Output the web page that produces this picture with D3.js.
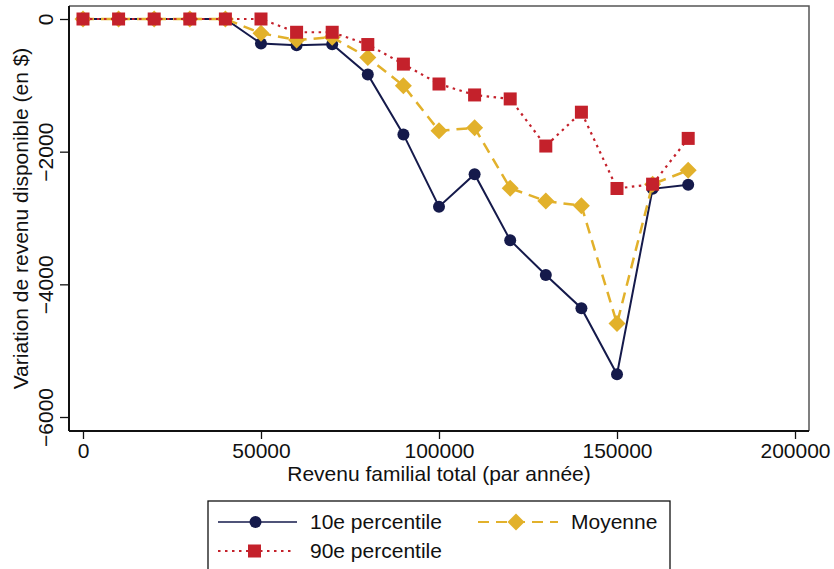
<!DOCTYPE html>
<html>
<head>
<meta charset="utf-8">
<script src="https://cdn.jsdelivr.net/npm/d3@7"></script>
<style>
  body { margin: 0; background: #fff; }
  svg text { font-family: "Liberation Sans", Arial, sans-serif; fill: #111; }
</style>
</head>
<body>
<div id="chart"></div>
<script>
// revenu familial (x) and the three series
const revenus = [0, 10000, 20000, 30000, 40000, 50000, 60000, 70000, 80000, 90000,
                 100000, 110000, 120000, 130000, 140000, 150000, 160000, 170000];
const p10 = [0, 0, 0, 0, 0, -370, -395, -380, -835, -1740, -2830, -2340, -3335,
             -3860, -4360, -5355, -2560, -2500];
const moyenne = [0, 0, 0, 0, 0, -215, -315, -275, -580, -1005, -1685, -1640, -2550,
                 -2745, -2815, -4590, -2490, -2280];
const p90 = [0, 0, 0, 0, 0, 0, -200, -200, -385, -680, -980, -1145, -1205,
             -1915, -1405, -2555, -2490, -1800];
const xTicks = [0, 50000, 100000, 150000, 200000];
const yTicks = [0, -2000, -4000, -6000];

const seriesNames = ['10e percentile', 'Moyenne', '90e percentile'];

const W = 834, H = 569;
const margin = {top: 6, right: 25, bottom: 138, left: 69};
const width = W - margin.left - margin.right;
const height = H - margin.top - margin.bottom;
const fontSize = 21;

const svg = d3.select('#chart').append('svg')
    .attr('width', W)
    .attr('height', H);

const chart = svg.append('g')
    .attr('transform', `translate(${margin.left},${margin.top})`);

const x = d3.scaleLinear().domain([-3930, 203930]).range([0, width]);
const y = d3.scaleLinear().domain([196, -6211]).range([0, height]);

// frame (top/right)
chart.append('path')
    .attr('d', `M0,0H${width}V${height}`)
    .attr('fill', 'none')
    .attr('stroke', '#555')
    .attr('stroke-width', 1.5);

const xAxis = d3.axisBottom(x).tickValues(xTicks).tickSize(8).tickPadding(4)
    .tickFormat(d3.format('d'));
const yAxis = d3.axisLeft(y).tickValues(yTicks).tickSize(9)
    .tickFormat(d => d < 0 ? '\u2212' + Math.abs(d) : d);

const xg = chart.append('g')
    .attr('transform', `translate(0,${height})`)
    .call(xAxis);
xg.select('.domain').attr('stroke', '#111').attr('stroke-width', 2).attr('d', `M0,0H${width}`);
xg.selectAll('.tick line').attr('stroke', '#111').attr('stroke-width', 1.3);
xg.selectAll('.tick text')
    .attr('font-size', fontSize)
    .attr('fill', '#111')
    .attr('dy', null)
    .attr('y', 27);

const yg = chart.append('g').call(yAxis);
yg.select('.domain').attr('stroke', '#111').attr('stroke-width', 2).attr('d', `M0,0V${height}`);
yg.selectAll('.tick line').attr('stroke', '#111').attr('stroke-width', 1.3);
yg.selectAll('.tick text')
    .attr('font-size', fontSize)
    .attr('fill', '#111')
    .attr('text-anchor', 'middle')
    .attr('x', null)
    .attr('dy', null)
    .attr('transform', 'translate(-16,0) rotate(-90)');

// axis titles
svg.append('text')
    .attr('x', margin.left + x(100000))
    .attr('y', 481)
    .attr('text-anchor', 'middle')
    .attr('font-size', fontSize)
    .text('Revenu familial total (par année)');

svg.append('text')
    .attr('transform', `translate(28,${margin.top + height / 2}) rotate(-90)`)
    .attr('text-anchor', 'middle')
    .attr('font-size', fontSize)
    .text('Variation de revenu disponible (en $)');

const styles = {
    '10e percentile': {color: '#151a4b', dash: null, width: 2, values: p10, shape: 'circle'},
    'Moyenne': {color: '#e2b12b', dash: '11,7', width: 2.5, values: moyenne, shape: 'diamond'},
    '90e percentile': {color: '#c4212b', dash: '2.5,4.5', width: 2.2, values: p90, shape: 'square'}
};

const line = d3.line().x(d => x(d[0])).y(d => y(d[1]));

function drawMarker(g, shape, color, cx, cy) {
    if (shape === 'circle') {
        g.append('circle').attr('cx', cx).attr('cy', cy).attr('r', 6).attr('fill', color);
    } else if (shape === 'diamond') {
        g.append('path').attr('d', `M${cx},${cy - 8.5}L${cx + 8.5},${cy}L${cx},${cy + 8.5}L${cx - 8.5},${cy}Z`)
            .attr('fill', color);
    } else {
        g.append('rect').attr('x', cx - 6.5).attr('y', cy - 6.5).attr('width', 13).attr('height', 13)
            .attr('fill', color);
    }
}

seriesNames.forEach(name => {
    const s = styles[name];
    const pts = revenus.map((r, i) => [r, s.values[i]]);
    const g = chart.append('g');
    g.append('path')
        .datum(pts)
        .attr('d', line)
        .attr('fill', 'none')
        .attr('stroke', s.color)
        .attr('stroke-width', s.width)
        .attr('stroke-dasharray', s.dash);
    pts.forEach(p => drawMarker(g, s.shape, s.color, x(p[0]), y(p[1])));
});

// legend
const legend = svg.append('g');
legend.append('rect')
    .attr('x', 208).attr('y', 501)
    .attr('width', 462).attr('height', 80)
    .attr('fill', '#fff')
    .attr('stroke', '#111')
    .attr('stroke-width', 1.3);

const legendPos = {
    '10e percentile': {x0: 218, x1: 297, ty: 522, tx: 310},
    'Moyenne': {x0: 478, x1: 558, ty: 522, tx: 571},
    '90e percentile': {x0: 218, x1: 295, ty: 551, tx: 310}
};

seriesNames.forEach(name => {
    const s = styles[name];
    const p = legendPos[name];
    legend.append('line')
        .attr('x1', p.x0).attr('x2', p.x1)
        .attr('y1', p.ty).attr('y2', p.ty)
        .attr('stroke', s.color)
        .attr('stroke-width', s.width - 0.3)
        .attr('stroke-dasharray', s.dash);
    drawMarker(legend, s.shape, s.color, (p.x0 + p.x1) / 2 - 2, p.ty);
    legend.append('text')
        .attr('x', p.tx).attr('y', p.ty)
        .attr('dy', '0.35em')
        .attr('font-size', fontSize)
        .text(name);
});
</script>
</body>
</html>
